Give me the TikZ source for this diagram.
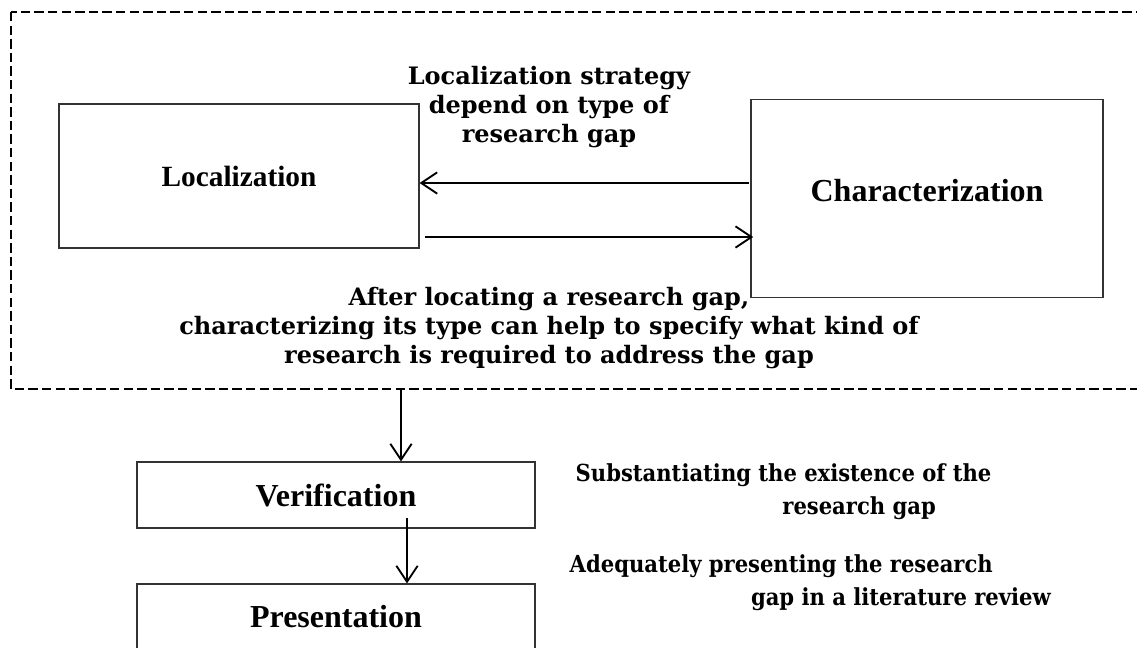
\documentclass[tikz,border=0pt]{standalone}
\usepackage{fontspec}
\setmainfont{Liberation Serif}
\newfontfamily\notefont{DejaVu Serif}
\newfontfamily\sidefont{DejaVu Serif Condensed}
\usetikzlibrary{arrows.meta}

\begin{document}
\begin{tikzpicture}[x=0.75pt,y=-0.75pt,
  stagebox/.style={draw=black!80,line width=0.8pt,inner sep=0pt,font=\bfseries\fontsize{24}{28}\selectfont},
  note/.style={font=\notefont\bfseries\fontsize{18}{22}\selectfont,align=center},
  sidenote/.style={font=\sidefont\bfseries\fontsize{17.6}{24.5}\selectfont,align=left,anchor=west},
  arr/.style={line width=1.4pt,-{Straight Barb[length=12pt,width=16pt,line width=1.4pt]}}]

  \useasboundingbox (0,0) rectangle (1137,647);
  \draw[line width=1.9pt,dash pattern=on 7pt off 3.2pt] (11,12) rectangle (1160,389);

  \node[stagebox,minimum width=270pt,minimum height=108pt,font=\bfseries\fontsize{22}{26}\selectfont]
    (loc) at (239,176) {Localization};
  \node[stagebox,minimum width=264pt,minimum height=149pt,text depth=12pt]
    (char) at (927,198.5) {Characterization};
  \node[stagebox,minimum width=298.5pt,minimum height=49.5pt]
    (verif) at (336,495) {Verification};
  \node[stagebox,minimum width=298.5pt,minimum height=49.5pt]
    (pres) at (336,617) {Presentation};

  \node[note] (strat) at (549,107) {Localization strategy\\depend on type of\\research gap};
  \node[note] (after) at (549,328)
    {After locating a research gap,\\characterizing its type can help to specify what kind of\\research is required to address the gap};
  \node[sidenote] (verinote) at (571,492)
    {Substantiating the existence of the\\\hspace*{155pt}research gap};
  \node[sidenote] (presnote) at (565,583)
    {Adequately presenting the research\\\hspace*{136pt}gap in a literature review};

  \coordinate (back) at (749,183);
  \coordinate (fwd) at (425,237);
  \coordinate (frameout) at (401,389);
  \coordinate (verout) at (407,518);
  \draw[arr] (back) -- (back -| loc.east);
  \draw[arr] (fwd) -- ([xshift=2pt]fwd -| char.west);
  \draw[arr] (frameout) -- (frameout |- verif.north);
  \draw[arr] (verout) -- (verout |- pres.north);
\end{tikzpicture}
\end{document}
